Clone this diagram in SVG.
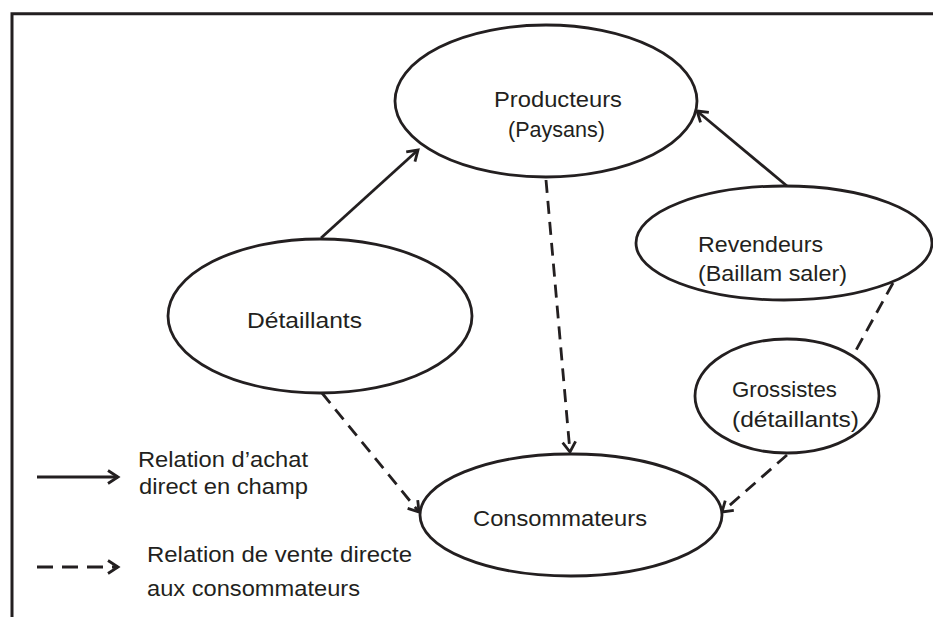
<svg xmlns="http://www.w3.org/2000/svg" width="933" height="617" viewBox="0 0 933 617">
<style>
.n{fill:#fff;stroke:#231f20;stroke-width:2.8}
.t{font-family:"Liberation Sans",Arial,sans-serif;font-size:22px;fill:#231f20}
.c{fill:none;stroke:#231f20;stroke-width:2.8}
.d{stroke-dasharray:13 8}
</style>
<defs>
<marker id="arr" markerUnits="userSpaceOnUse" markerWidth="16" markerHeight="18" refX="12" refY="8" orient="auto">
<path d="M2,1.5 L12,8 L2,14.5" fill="none" stroke="#231f20" stroke-width="2.8"/>
</marker>
</defs>
<rect width="933" height="617" fill="#fff"/>
<path d="M12,617 V13.7 H933" fill="none" stroke="#231f20" stroke-width="3"/>
<g id="connectors">
<line class="c" x1="321" y1="238" x2="418" y2="150" marker-end="url(#arr)"/>
<line class="c" x1="787" y1="186" x2="697" y2="111" marker-end="url(#arr)"/>
<line class="c d" x1="546" y1="180" x2="570" y2="452" marker-end="url(#arr)"/>
<line class="c d" x1="322" y1="393" x2="419" y2="512" marker-end="url(#arr)"/>
<line class="c d" x1="893" y1="283" x2="855" y2="352"/>
<line class="c d" x1="787" y1="455" x2="722" y2="512" marker-end="url(#arr)"/>
</g>
<g id="producteurs">
<ellipse class="n" cx="546" cy="101" rx="151" ry="76"/>
<text class="t" x="494" y="107" textLength="128" lengthAdjust="spacingAndGlyphs">Producteurs</text>
<text class="t" x="508" y="137" textLength="97" lengthAdjust="spacingAndGlyphs">(Paysans)</text>
</g>
<g id="revendeurs">
<ellipse class="n" cx="784" cy="243" rx="148" ry="57"/>
<text class="t" x="698" y="252" textLength="125" lengthAdjust="spacingAndGlyphs">Revendeurs</text>
<text class="t" x="698" y="281" textLength="149" lengthAdjust="spacingAndGlyphs">(Baillam saler)</text>
</g>
<g id="detaillants">
<ellipse class="n" cx="320" cy="316" rx="152" ry="77"/>
<text class="t" x="247" y="328" textLength="115" lengthAdjust="spacingAndGlyphs">Détaillants</text>
</g>
<g id="grossistes">
<ellipse class="n" cx="787" cy="396" rx="92" ry="57"/>
<text class="t" x="732" y="397" textLength="105" lengthAdjust="spacingAndGlyphs">Grossistes</text>
<text class="t" x="732" y="427" textLength="127" lengthAdjust="spacingAndGlyphs">(détaillants)</text>
</g>
<g id="consommateurs">
<ellipse class="n" cx="571" cy="515" rx="151" ry="61"/>
<text class="t" x="473" y="526" textLength="174" lengthAdjust="spacingAndGlyphs">Consommateurs</text>
</g>
<g id="legend">
<line class="c" x1="37" y1="477" x2="118" y2="477" marker-end="url(#arr)"/>
<text class="t" x="138" y="467" textLength="170" lengthAdjust="spacingAndGlyphs">Relation d’achat</text>
<text class="t" x="139" y="494" textLength="169" lengthAdjust="spacingAndGlyphs">direct en champ</text>
<line class="c" x1="37" y1="567" x2="118" y2="567" style="stroke-dasharray:16 9" marker-end="url(#arr)"/>
<text class="t" x="147" y="562" textLength="265" lengthAdjust="spacingAndGlyphs">Relation de vente directe</text>
<text class="t" x="147" y="596" textLength="213" lengthAdjust="spacingAndGlyphs">aux consommateurs</text>
</g>
</svg>
